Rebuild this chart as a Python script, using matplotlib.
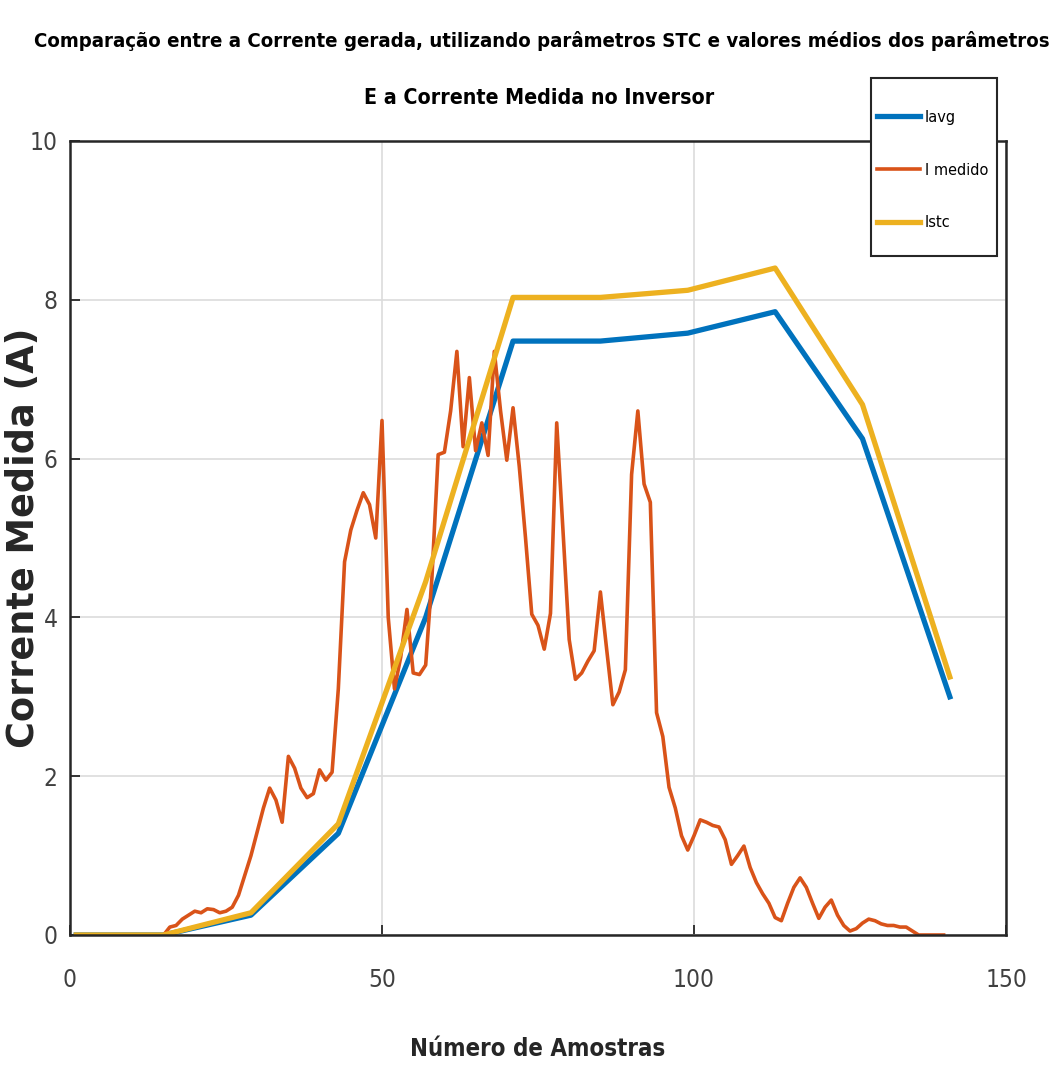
import matplotlib
matplotlib.use("Agg")
import matplotlib.pyplot as plt
from matplotlib import font_manager
from matplotlib.font_manager import FontProperties
from matplotlib.patches import Rectangle

# ---------------- data ----------------
x_model = [1, 15, 29, 43, 57, 71, 85, 99, 113, 127, 141]
i_avg = [0, 0, 0.25, 1.28, 4.0, 7.48, 7.48, 7.58, 7.85, 6.25, 3.0]
i_stc = [0, 0, 0.28, 1.40, 4.45, 8.03, 8.03, 8.12, 8.40, 6.68, 3.25]

x_med = list(range(1, 141))
i_medido = [
    0, 0, 0, 0, 0, 0, 0, 0, 0, 0,                                  # 1-10
    0, 0, 0, 0, 0, 0.10, 0.12, 0.20, 0.25, 0.30,                   # 11-20
    0.28, 0.33, 0.32, 0.28, 0.30, 0.35, 0.50, 0.75, 1.00, 1.30,    # 21-30
    1.60, 1.85, 1.70, 1.42, 2.25, 2.10, 1.85, 1.73, 1.78, 2.08,    # 31-40
    1.95, 2.05, 3.10, 4.70, 5.10, 5.35, 5.57, 5.42, 5.00, 6.48,    # 41-50
    4.00, 3.10, 3.50, 4.10, 3.30, 3.28, 3.40, 4.50, 6.05, 6.08,    # 51-60
    6.60, 7.35, 6.15, 7.02, 6.10, 6.45, 6.04, 7.35, 6.60, 5.98,    # 61-70
    6.64, 5.90, 5.00, 4.04, 3.90, 3.60, 4.05, 6.45, 5.10, 3.72,    # 71-80
    3.22, 3.30, 3.45, 3.58, 4.32, 3.60, 2.90, 3.06, 3.34, 5.80,    # 81-90
    6.60, 5.68, 5.45, 2.80, 2.50, 1.86, 1.60, 1.25, 1.07, 1.25,    # 91-100
    1.45, 1.42, 1.38, 1.36, 1.20, 0.89, 1.00, 1.12, 0.85, 0.66,    # 101-110
    0.52, 0.40, 0.22, 0.18, 0.40, 0.60, 0.72, 0.60, 0.40, 0.21,    # 111-120
    0.35, 0.44, 0.25, 0.12, 0.05, 0.08, 0.15, 0.20, 0.18, 0.14,    # 121-130
    0.12, 0.12, 0.10, 0.10, 0.05, 0, 0, 0, 0, 0,                   # 131-140
]

x_ticks = [0, 50, 100, 150]
y_ticks = [0, 2, 4, 6, 8, 10]

title_line1 = "Comparação entre a Corrente gerada, utilizando parâmetros STC e valores médios dos parâmetros"
title_line2 = "E a Corrente Medida no Inversor"
xlabel_text = "Número de Amostras"
ylabel_text = "Corrente Medida (A)"
labels = ["Iavg", "I medido", "Istc"]


# ---------------- fonts: prefer a narrow / condensed sans ----------------
def narrow_font(bold):
    best = None
    order = ["Liberation Sans Narrow", "Arial Narrow", "DejaVu Sans", "Open Sans",
             "Noto Sans", "Roboto", "Lato", "Inter"]
    for f in font_manager.fontManager.ttflist:
        nm = f.name
        is_narrow = ("Narrow" in nm or "Condensed" in nm
                     or str(f.stretch) in ("condensed", "semi-condensed", "extra-condensed",
                                           "ultra-condensed", "75", "62.5", "87.5"))
        if not is_narrow or f.style != "normal":
            continue
        w = f.weight if isinstance(f.weight, int) else (700 if "bold" in str(f.weight) else 400)
        if bold != (w >= 600):
            continue
        base = next((i for i, o in enumerate(order) if nm.startswith(o)), len(order))
        key = (base, abs(w - (700 if bold else 400)))
        if best is None or key < best[0]:
            best = (key, f.fname)
    if best:
        return FontProperties(fname=best[1])
    return FontProperties(family="Liberation Sans", weight="bold" if bold else "normal")


FP_REG = narrow_font(False)
FP_BOLD = narrow_font(True)

W, H = 1053.0, 1072.0
fig = plt.figure(figsize=(W / 100, H / 100), dpi=100)
renderer = fig.canvas.get_renderer()


def fp_sized(base, size):
    p = base.copy()
    p.set_size(size)
    return p


def fit(text, fp, target_px, rotation=0):
    t = fig.text(0, 0, text, fontproperties=fp_sized(fp, 10), rotation=rotation)
    ext = t.get_window_extent(renderer)
    t.remove()
    span = ext.height if rotation else ext.width
    return 10.0 * target_px / span


# ---------------- plot ----------------
ax = fig.add_axes([70 / W, 1 - 935 / H, 936 / W, 794 / H])

ax.plot(x_model, i_avg, color="#0072BD", lw=3.8, label=labels[0], solid_joinstyle="round")
ax.plot(x_med, i_medido, color="#D95319", lw=2.6, label=labels[1], solid_joinstyle="round")
ax.plot(x_model, i_stc, color="#EDB120", lw=3.8, label=labels[2], solid_joinstyle="round")

ax.set_xlim(0, 150)
ax.set_ylim(0, 10)
ax.set_xticks(x_ticks)
ax.set_yticks(y_ticks)
ax.grid(True, color="#dcdcdc", lw=1.2)
ax.set_axisbelow(True)
ax.tick_params(direction="in", length=7, width=1.3, colors="#262626",
               pad=24, top=False, right=False)
ax.tick_params(axis="y", pad=9)
tick_size = fit("150", FP_REG, 30) * 1.4
for lab in ax.get_xticklabels() + ax.get_yticklabels():
    lab.set_fontproperties(fp_sized(FP_REG, tick_size))
    lab.set_color("#404040")
for sp in ax.spines.values():
    sp.set_color("#262626")
    sp.set_linewidth(1.8)

xl_size = fit(xlabel_text, FP_BOLD, 221) * 1.15
ax.set_xlabel(xlabel_text, fontproperties=fp_sized(FP_BOLD, xl_size), color="#262626")
ax.xaxis.set_label_coords(0.5, -0.128)

yl_fp = FontProperties(family="DejaVu Sans", weight="bold")
yl_size = fit(ylabel_text, yl_fp, 420, rotation=90)
ax.set_ylabel(ylabel_text, fontproperties=fp_sized(yl_fp, yl_size), color="#262626")
ax.yaxis.set_label_coords(-0.030, 0.5)

t_size = fit(title_line1, FP_BOLD, 1012)
fig.text(0.515, 0.962, title_line1, fontproperties=fp_sized(FP_BOLD, t_size),
         ha="center", va="center", color="black")
fig.text(0.512, 0.909, title_line2, fontproperties=fp_sized(FP_BOLD, t_size * 1.05),
         ha="center", va="center", color="black")

# legend: frame box drawn explicitly, entries placed inside
frame = Rectangle((871 / W, 1 - 256 / H), 126 / W, 178 / H, transform=fig.transFigure,
                  facecolor="white", edgecolor="#262626", lw=1.5, clip_on=False, zorder=4.8)
ax.add_artist(frame)
leg_size = fit("I medido", FP_REG, 64)
fs_px = leg_size * 100 / 72.0
leg = ax.legend(loc="center left", bbox_to_anchor=(877 / W, 1 - 170 / H), bbox_transform=fig.transFigure,
                frameon=False, borderpad=0, borderaxespad=0,
                labelspacing=(57.0 - 1.17 * fs_px) / fs_px,
                handlelength=43.0 / fs_px, handletextpad=5.0 / fs_px,
                prop=fp_sized(FP_REG, leg_size))
leg.set_zorder(5)

fig.savefig("out.png", dpi=100, facecolor="white")
